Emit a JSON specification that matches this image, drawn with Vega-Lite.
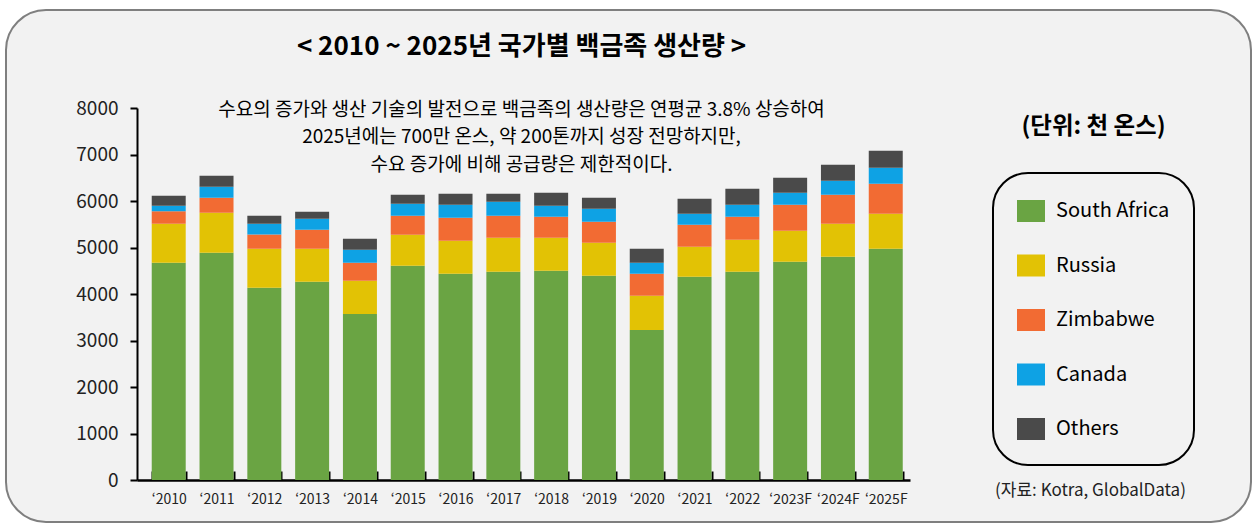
{
  "$schema": "https://vega.github.io/schema/vega-lite/v6.json",
  "width": 1245,
  "height": 512,
  "autosize": {"type": "none"},
  "padding": {"left": 6, "top": 10, "right": 7, "bottom": 8},
  "background": "white",
  "config": {
    "font": "Noto Sans CJK KR",
    "view": {"fill": "#f2f2f2", "stroke": "#7f7f7f", "strokeWidth": 2, "cornerRadius": 40},
    "legend": {"strokeWidth": 2}
  },
  "title": {
    "text": "< 2010 ~ 2025년 국가별 백금족 생산량 >",
    "subtitle": [
      "수요의 증가와 생산 기술의 발전으로 백금족의 생산량은 연평균 3.8% 상승하여",
      "2025년에는 700만 온스, 약 200톤까지 성장 전망하지만,",
      "수요 증가에 비해 공급량은 제한적이다."
    ],
    "anchor": "middle",
    "dx": -107,
    "offset": -165,
    "fontSize": 26,
    "fontWeight": "bold",
    "color": "black",
    "subtitleFontSize": 19,
    "subtitleColor": "black",
    "subtitleLineHeight": 27.6,
    "subtitlePadding": 41
  },
  "datasets": {
    "stackRank": [
      {"country": "South Africa", "rank": 1},
      {"country": "Russia", "rank": 2},
      {"country": "Zimbabwe", "rank": 3},
      {"country": "Canada", "rank": 4},
      {"country": "Others", "rank": 5}
    ]
  },
  "data": {
    "values": [
      {"year": "‘2010", "South Africa": 4670, "Russia": 840, "Zimbabwe": 272, "Canada": 115, "Others": 215},
      {"year": "‘2011", "South Africa": 4885, "Russia": 861, "Zimbabwe": 323, "Canada": 237, "Others": 236},
      {"year": "‘2012", "South Africa": 4132, "Russia": 839, "Zimbabwe": 309, "Canada": 229, "Others": 172},
      {"year": "‘2013", "South Africa": 4261, "Russia": 710, "Zimbabwe": 409, "Canada": 237, "Others": 151},
      {"year": "‘2014", "South Africa": 3572, "Russia": 711, "Zimbabwe": 387, "Canada": 280, "Others": 237},
      {"year": "‘2015", "South Africa": 4605, "Russia": 668, "Zimbabwe": 408, "Canada": 259, "Others": 193},
      {"year": "‘2016", "South Africa": 4433, "Russia": 710, "Zimbabwe": 495, "Canada": 280, "Others": 237},
      {"year": "‘2017", "South Africa": 4476, "Russia": 732, "Zimbabwe": 473, "Canada": 302, "Others": 172},
      {"year": "‘2018", "South Africa": 4498, "Russia": 710, "Zimbabwe": 452, "Canada": 237, "Others": 279},
      {"year": "‘2019", "South Africa": 4390, "Russia": 710, "Zimbabwe": 452, "Canada": 280, "Others": 237},
      {"year": "‘2020", "South Africa": 3228, "Russia": 732, "Zimbabwe": 473, "Canada": 237, "Others": 301},
      {"year": "‘2021", "South Africa": 4369, "Russia": 645, "Zimbabwe": 474, "Canada": 237, "Others": 322},
      {"year": "‘2022", "South Africa": 4476, "Russia": 689, "Zimbabwe": 495, "Canada": 258, "Others": 345},
      {"year": "‘2023F", "South Africa": 4692, "Russia": 667, "Zimbabwe": 559, "Canada": 258, "Others": 323},
      {"year": "‘2024F", "South Africa": 4799, "Russia": 710, "Zimbabwe": 624, "Canada": 302, "Others": 344},
      {"year": "‘2025F", "South Africa": 4971, "Russia": 754, "Zimbabwe": 645, "Canada": 344, "Others": 366}
    ]
  },
  "transform": [
    {"fold": ["South Africa", "Russia", "Zimbabwe", "Canada", "Others"], "as": ["country", "value"]},
    {"lookup": "country", "from": {"data": {"name": "stackRank"}, "key": "country", "fields": ["rank"]}}
  ],
  "mark": {"type": "bar"},
  "encoding": {
    "x": {
      "field": "year",
      "type": "nominal",
      "sort": null,
      "scale": {"range": [131, 904], "paddingInner": 0.289, "paddingOuter": 0.23, "align": 0.67},
      "axis": {
        "title": "(자료: Kotra, GlobalData)",
        "titleX": 1084,
        "titleY": 10,
        "titleAlign": "center",
        "titleBaseline": "middle",
        "titleFontSize": 17,
        "titleFontWeight": "normal",
        "titleColor": "#222222",
        "offset": -42,
        "labelAngle": 0,
        "labelFontSize": 14,
        "labelColor": "#222222",
        "labelPadding": 21,
        "tickBand": "extent",
        "tickSize": -9,
        "tickWidth": 2,
        "tickColor": "black",
        "domainColor": "black",
        "domainWidth": 2.5
      }
    },
    "y": {
      "field": "value",
      "type": "quantitative",
      "stack": "zero",
      "scale": {"domain": [0, 8000], "range": [470, 98], "nice": false},
      "axis": {
        "title": "(단위: 천 온스)",
        "titleAngle": 0,
        "titleX": 956,
        "titleY": 116,
        "titleAlign": "center",
        "titleBaseline": "middle",
        "titleFontSize": 23.5,
        "titleFontWeight": "bold",
        "titleColor": "black",
        "offset": -131,
        "values": [0, 1000, 2000, 3000, 4000, 5000, 6000, 7000, 8000],
        "format": "d",
        "grid": false,
        "labelFontSize": 19,
        "labelColor": "#222222",
        "labelPadding": 12,
        "tickSize": 7,
        "tickWidth": 2,
        "tickColor": "black",
        "domainColor": "black",
        "domainWidth": 2
      }
    },
    "color": {
      "field": "country",
      "type": "nominal",
      "scale": {
        "domain": ["South Africa", "Russia", "Zimbabwe", "Canada", "Others"],
        "range": ["#6aa443", "#e2c205", "#f26b33", "#0ea2e4", "#4a4a4a"]
      },
      "legend": {
        "title": null,
        "orient": "none",
        "legendX": 987,
        "legendY": 163,
        "strokeColor": "black",
        "cornerRadius": 35,
        "padding": 24,
        "symbolType": "M-1,-0.786H1V0.786H-1Z",
        "symbolSize": 784,
        "symbolStrokeWidth": 0,
        "symbolOpacity": 1,
        "labelFontSize": 20,
        "labelColor": "black",
        "labelOffset": 11,
        "rowPadding": 28.5
      }
    },
    "order": {"field": "rank", "type": "quantitative", "sort": "ascending"}
  }
}
